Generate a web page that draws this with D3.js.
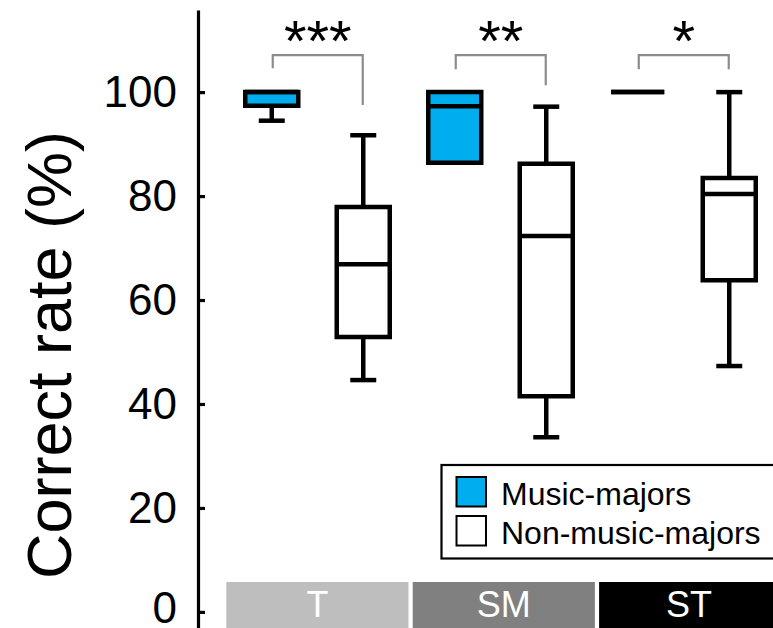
<!DOCTYPE html>
<html>
<head>
<meta charset="utf-8">
<script src="https://cdn.jsdelivr.net/npm/d3@7/dist/d3.min.js"></script>
<style>
  html, body { margin: 0; padding: 0; background: #fff; }
  svg { display: block; font-family: "Liberation Sans", Arial, Helvetica, sans-serif; }
</style>
</head>
<body>
<svg id="chart" width="773" height="628"></svg>
<script>
// Task conditions along the x axis
const categories = ["T", "SM", "ST"];
const groups = ["Music-majors", "Non-music-majors"];
const groupColors = ["#00aeef", "#ffffff"];

// Box summaries per condition: [lower whisker, Q1, median, Q3, upper whisker]
const musicStats = [
  [94.5, 97.4, 100, 100, 100],
  [86.4, 86.4, 97.3, 100, 100],
  [100, 100, 100, 100, 100]
];
const nonMusicStats = [
  [44.6, 52.9, 66.9, 77.9, 91.7],
  [33.6, 41.5, 72.3, 86.2, 97.2],
  [47.3, 63.8, 80.4, 83.5, 100]
];

// Significance brackets: label, bracket height, leg end (left, right)
const sigLabels = ["***", "**", "*"];
const bracketTop = [107.1, 107.1, 107.1];
const bracketLegLeft = [104.6, 104.4, 104.4];
const bracketLegRight = [97.5, 101.3, 104.4];

const yTicks = [0, 20, 40, 60, 80, 100];
const stripColors = ["#bebebe", "#808080", "#000000"];

const svg = d3.select("#chart");

const y = d3.scaleLinear().domain([-3.1, 115.8]).range([628, 10]);
const x = d3.scaleBand().domain(categories).range([226, 775]);
const xSub = d3.scaleBand().domain(groups).range([0, x.bandwidth()]);
const xStrip = d3.scaleBand().domain(categories).range([226.3, 781.3]).paddingInner(0.0225);

// Condition strip along the bottom
const strip = svg.append("g");
strip.selectAll("rect").data(categories).join("rect")
  .attr("x", d => xStrip(d))
  .attr("y", 582)
  .attr("width", xStrip.bandwidth())
  .attr("height", 60)
  .attr("fill", (d, i) => stripColors[i]);
strip.selectAll("text").data(categories).join("text")
  .attr("x", d => Math.min(xStrip(d) + xStrip.bandwidth() / 2, 689))
  .attr("y", 617)
  .attr("text-anchor", "middle")
  .attr("font-size", 36)
  .attr("fill", "#fff")
  .text(d => d);

// Y axis
const yAxis = d3.axisLeft(y).tickValues(yTicks).tickSize(-7).tickSizeOuter(0).tickPadding(21);
const ax = svg.append("g").attr("transform", "translate(198,0)").call(yAxis);
ax.select(".domain").attr("stroke", "#000").attr("stroke-width", 3.2);
ax.selectAll(".tick line").attr("stroke", "#000").attr("stroke-width", 3.2);
ax.selectAll(".tick text").attr("font-size", 44).attr("fill", "#000")
  .attr("font-family", "\"Liberation Sans\", Arial, sans-serif")
  .attr("y", d => d === 0 ? -3 : 0);

svg.append("text")
  .attr("transform", `translate(71, ${y(50) + 3}) rotate(-90)`)
  .attr("text-anchor", "middle")
  .attr("font-size", 63)
  .attr("fill", "#000")
  .text("Correct rate (%)");

// Box plots
const boxW = 53, capW = 26, sw = 4.5;
function drawBox(g, cx, s, fill) {
  const [lo, q1, med, q3, hi] = s;
  const line = (x1, y1, x2, y2) => g.append("line")
    .attr("x1", x1).attr("y1", y1).attr("x2", x2).attr("y2", y2)
    .attr("stroke", "#000").attr("stroke-width", sw);
  if (hi > q3) {
    line(cx, y(q3), cx, y(hi));
    line(cx - capW / 2, y(hi), cx + capW / 2, y(hi));
  }
  if (lo < q1) {
    line(cx, y(q1), cx, y(lo));
    line(cx - capW / 2, y(lo), cx + capW / 2, y(lo));
  }
  const x0 = cx - boxW / 2, x1 = cx + boxW / 2;
  g.append("path")
    .attr("d", `M${x0},${y(q3)}H${x1}V${y(q1)}H${x0}Z`)
    .attr("fill", fill).attr("stroke", "#000").attr("stroke-width", sw)
    .attr("stroke-linejoin", "miter");
  line(x0, y(med), x1, y(med));
}

const boxes = svg.append("g");
categories.forEach((c, i) => {
  drawBox(boxes, x(c) + xSub(groups[0]) + xSub.bandwidth() / 2, musicStats[i], groupColors[0]);
  drawBox(boxes, x(c) + xSub(groups[1]) + xSub.bandwidth() / 2, nonMusicStats[i], groupColors[1]);
});

// Significance brackets
const sig = svg.append("g");
categories.forEach((c, i) => {
  const xl = x(c) + xSub(groups[0]) + xSub.bandwidth() / 2 + 1;
  const xr = x(c) + xSub(groups[1]) + xSub.bandwidth() / 2 - 0.5;
  sig.append("path")
    .attr("d", `M${xl},${y(bracketLegLeft[i])}V${y(bracketTop[i])}H${xr}V${y(bracketLegRight[i])}`)
    .attr("fill", "none").attr("stroke", "#8c8c8c").attr("stroke-width", 2.2);
  sig.append("text")
    .attr("x", (xl + xr) / 2)
    .attr("y", 61)
    .attr("text-anchor", "middle")
    .attr("font-size", 58)
    .attr("fill", "#000")
    .text(sigLabels[i]);
});

// Legend
const lg = svg.append("g");
lg.append("rect").attr("x", 441.5).attr("y", 465).attr("width", 340).attr("height", 93.5)
  .attr("fill", "#fff").attr("stroke", "#000").attr("stroke-width", 2.2);
groups.forEach((gname, i) => {
  const yy = 477 + i * 39;
  lg.append("rect").attr("x", 456.5).attr("y", yy).attr("width", 29.5).attr("height", 29.5)
    .attr("fill", groupColors[i]).attr("stroke", "#000").attr("stroke-width", 2);
  lg.append("text").attr("x", 501).attr("y", yy + 27.5)
    .attr("font-size", 32).attr("fill", "#000").text(gname);
});
</script>
</body>
</html>
